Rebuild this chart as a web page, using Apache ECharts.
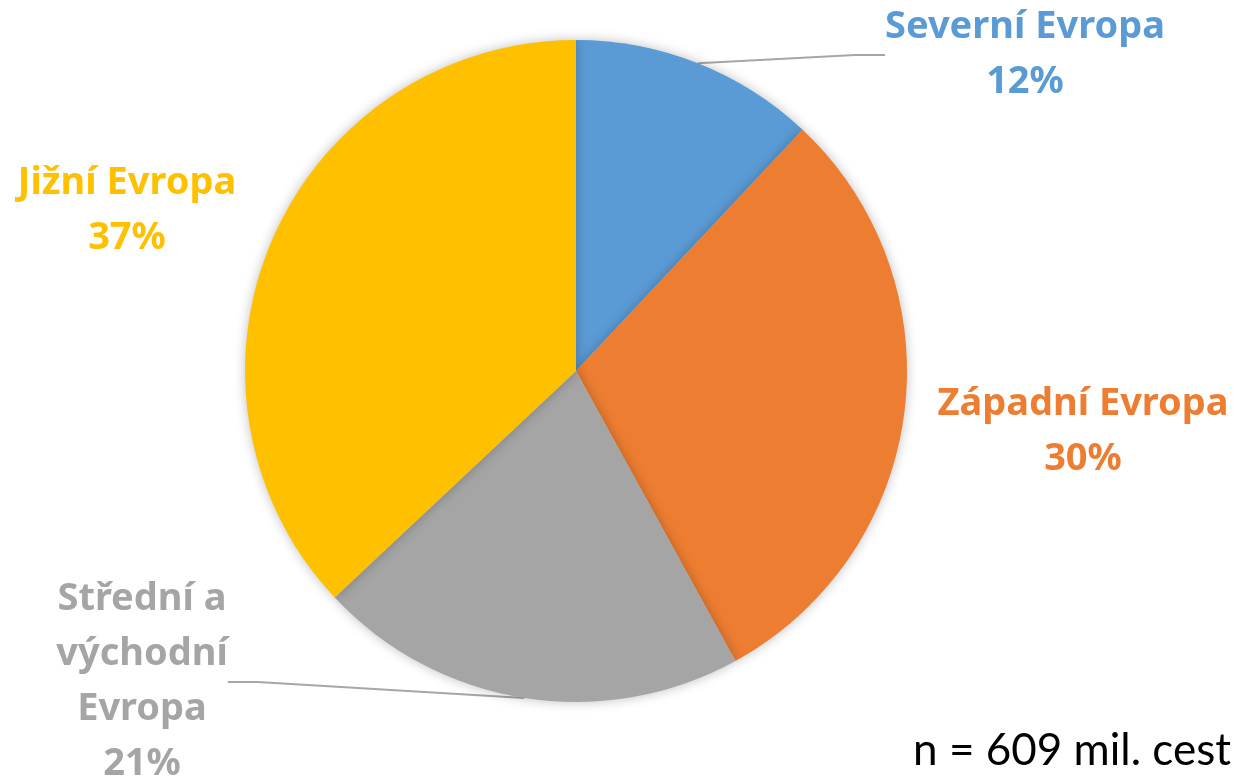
<!DOCTYPE html>
<html>
<head>
<meta charset="utf-8">
<script src="https://cdn.jsdelivr.net/npm/echarts@6/dist/echarts.min.js"></script>
<style>
  html, body { margin: 0; padding: 0; background: #fff; }
  #chart { width: 1240px; height: 782px; }
</style>
</head>
<body>
<div id="chart"></div>
<script>
// data
var regions = ['Severní Evropa', 'Západní Evropa', 'Střední a\nvýchodní\nEvropa', 'Jižní Evropa'];
var shares = [12, 30, 21, 37];
var colors = ['#5B9BD5', '#ED7D31', '#A5A5A5', '#FFC000'];
var showLine = [true, false, true, false];
var note = 'n = 609 mil. cest';

// label block centers (same order as regions)
var labelPos = [[1025, 55], [1083, 432], [142, 682], [127, 211]];

var chart = echarts.init(document.getElementById('chart'));

var data = regions.map(function (name, i) {
    return {
        name: name,
        value: shares[i],
        itemStyle: { color: colors[i] },
        label: { color: colors[i] },
        labelLine: { show: showLine[i] }
    };
});

chart.setOption({
    animation: false,
    title: {
        text: note,
        right: 4,
        bottom: 4,
        textStyle: { fontFamily: 'Lato', fontWeight: 'normal', fontSize: 44, color: '#000' }
    },
    series: [{
        type: 'pie',
        center: [576, 371],
        radius: 331,
        startAngle: 90,
        clockwise: true,
        avoidLabelOverlap: false,
        data: data,
        itemStyle: {
            shadowBlur: 12,
            shadowColor: 'rgba(0,0,0,0.25)'
        },
        label: {
            position: 'outside',
            formatter: '{b}\n{c}%',
            fontFamily: 'Noto Sans',
            fontWeight: 'bold',
            fontSize: 38,
            lineHeight: 55,
            align: 'center'
        },
        labelLine: {
            lineStyle: { color: '#A6A6A6', width: 2 }
        },
        labelLayout: function (p) {
            var pos = labelPos[p.dataIndex];
            return { x: pos[0], y: pos[1], align: 'center', verticalAlign: 'middle' };
        }
    }]
});
</script>
</body>
</html>
